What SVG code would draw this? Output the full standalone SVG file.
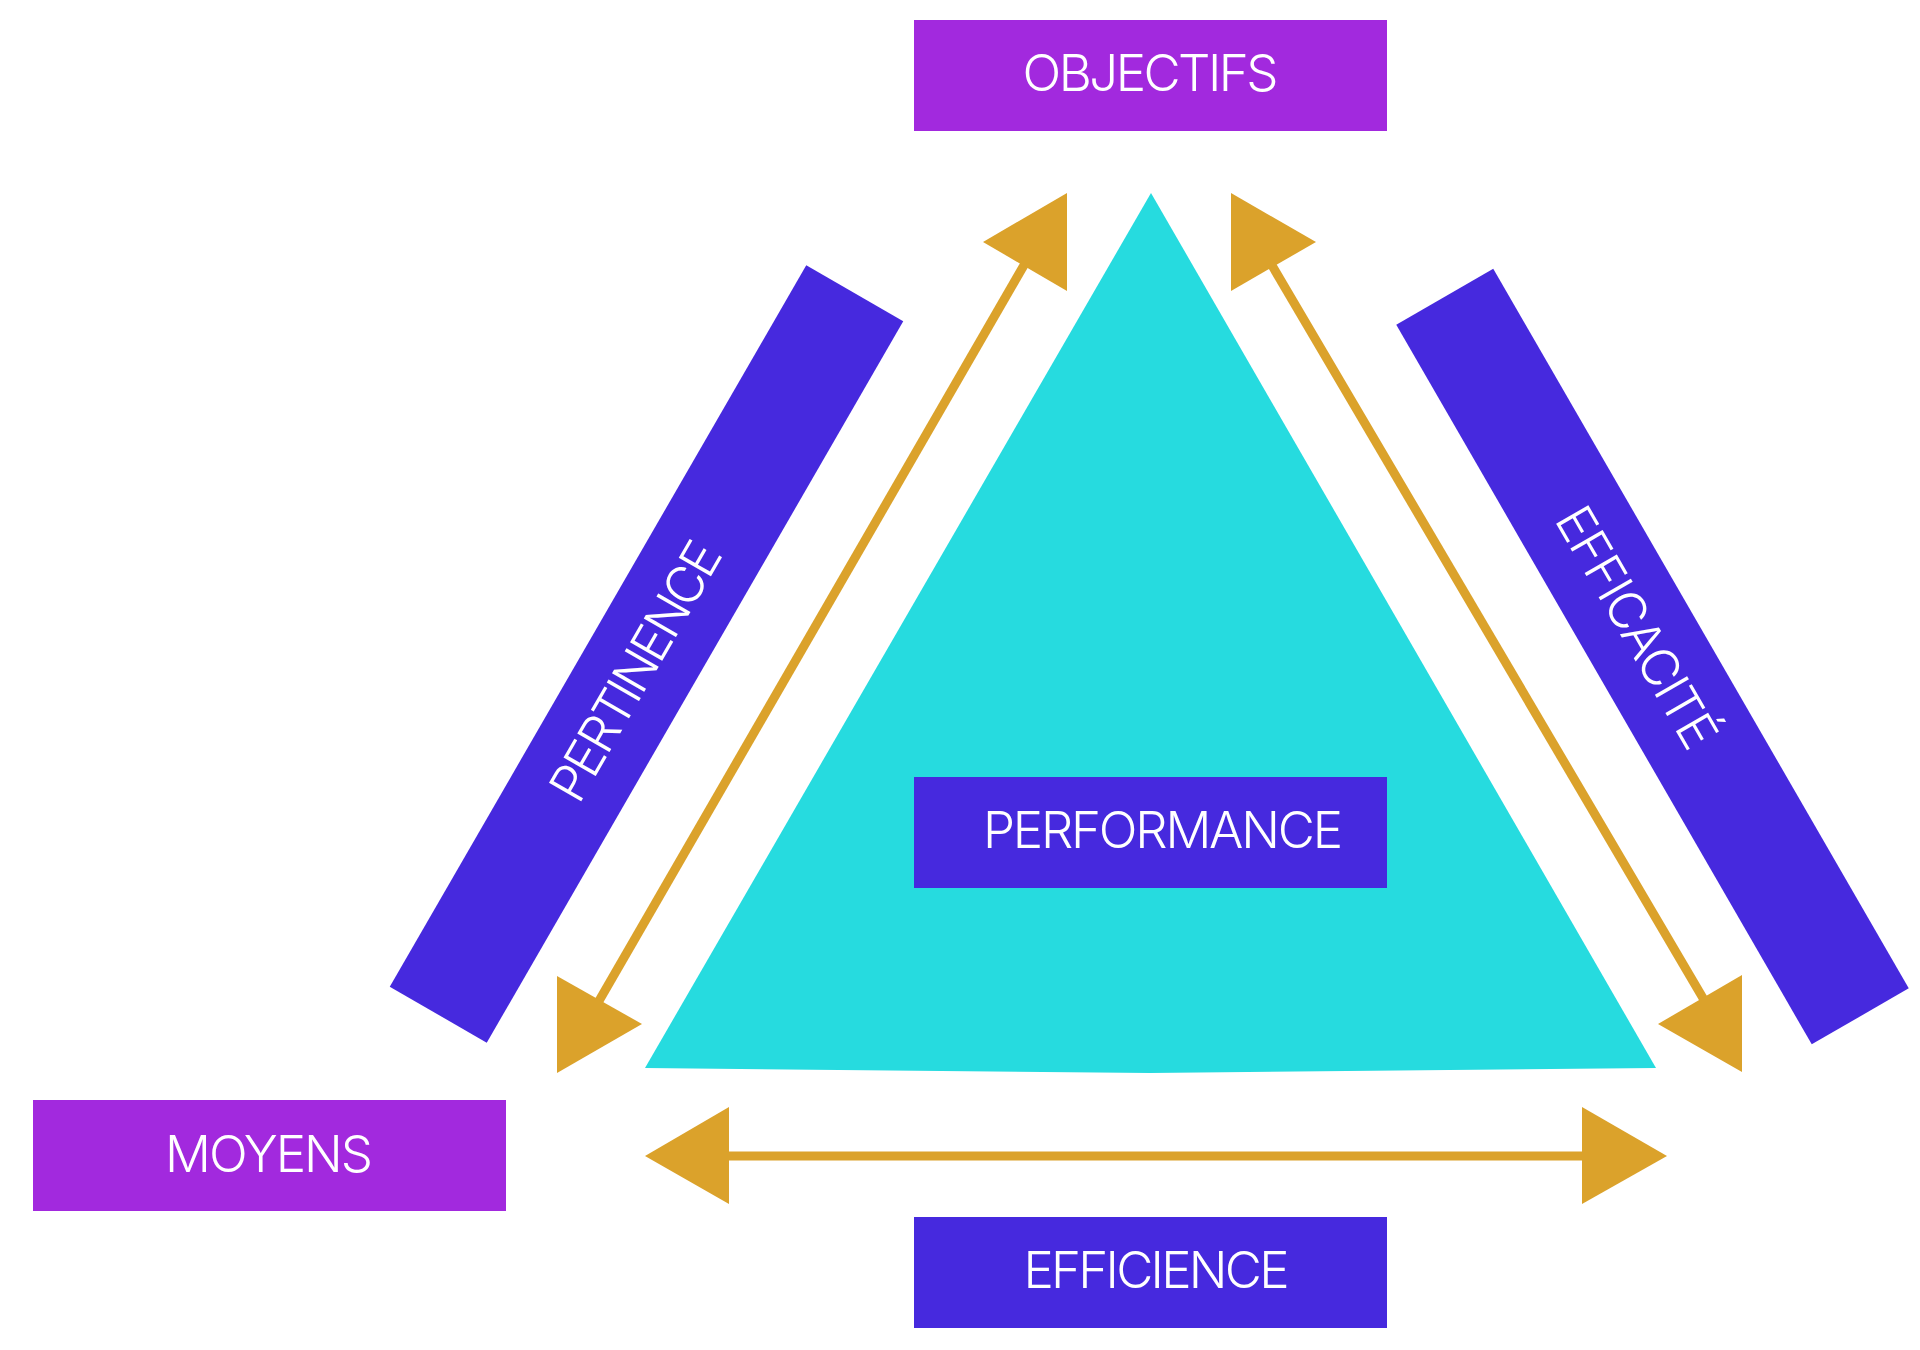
<svg xmlns="http://www.w3.org/2000/svg" width="1920" height="1350" viewBox="0 0 1920 1350">
  <style>
    .purple { fill: #A229DE; }
    .blue { fill: #4629DE; }
    .cyan { fill: #26DBDF; }
    .gold { fill: #DBA22B; }
    .line { stroke: #DBA22B; stroke-width: 9; fill: none; }
    .lbl { fill: #FFFFFF; font-family: Inter, "Liberation Sans", sans-serif; font-weight: 300; font-size: 51px; text-anchor: middle; }
  </style>
  <rect width="1920" height="1350" fill="#FFFFFF"/>

  <g id="triangle">
    <polygon class="cyan" points="1151,193 1656,1068 1150,1073 645,1068"/>
  </g>

  <g id="pertinence">
    <g transform="translate(646.5,654) rotate(-60)">
      <rect class="blue" x="-416.5" y="-56" width="833" height="112"/>
      <text class="lbl" x="-20" y="17" textLength="290" lengthAdjust="spacing">PERTINENCE</text>
    </g>
  </g>

  <g id="efficacite">
    <g transform="translate(1652.5,656.5) rotate(60)">
      <rect class="blue" x="-415.5" y="-56" width="831" height="112"/>
      <text class="lbl" x="-33" y="17" textLength="270" lengthAdjust="spacing">EFFICACITÉ</text>
    </g>
  </g>

  <g id="connectors">
    <line class="line" x1="592" y1="1013" x2="1027" y2="260"/>
    <polygon class="gold" points="983,242 1067,193 1067,291"/>
    <polygon class="gold" points="557,976 557,1073 642,1024"/>
    <line class="line" x1="1270" y1="262" x2="1710" y2="1010"/>
    <polygon class="gold" points="1231,193 1231,291 1316,242"/>
    <polygon class="gold" points="1658,1024 1742,975 1742,1072"/>
    <line class="line" x1="725" y1="1156" x2="1586" y2="1156"/>
    <polygon class="gold" points="645,1156 729,1107 729,1204"/>
    <polygon class="gold" points="1582,1107 1582,1204 1667,1156"/>
  </g>

  <g id="objectifs">
    <rect class="purple" x="914" y="20" width="473" height="111"/>
    <text class="lbl" x="1150.5" y="91" textLength="256" lengthAdjust="spacing">OBJECTIFS</text>
  </g>

  <g id="performance">
    <rect class="blue" x="914" y="777" width="473" height="111"/>
    <text class="lbl" x="1163" y="848" textLength="360" lengthAdjust="spacing">PERFORMANCE</text>
  </g>

  <g id="moyens">
    <rect class="purple" x="33" y="1100" width="473" height="111"/>
    <text class="lbl" x="269" y="1172" textLength="208" lengthAdjust="spacing">MOYENS</text>
  </g>

  <g id="efficience">
    <rect class="blue" x="914" y="1217" width="473" height="111"/>
    <text class="lbl" x="1156.5" y="1288" textLength="266" lengthAdjust="spacing">EFFICIENCE</text>
  </g>
</svg>
